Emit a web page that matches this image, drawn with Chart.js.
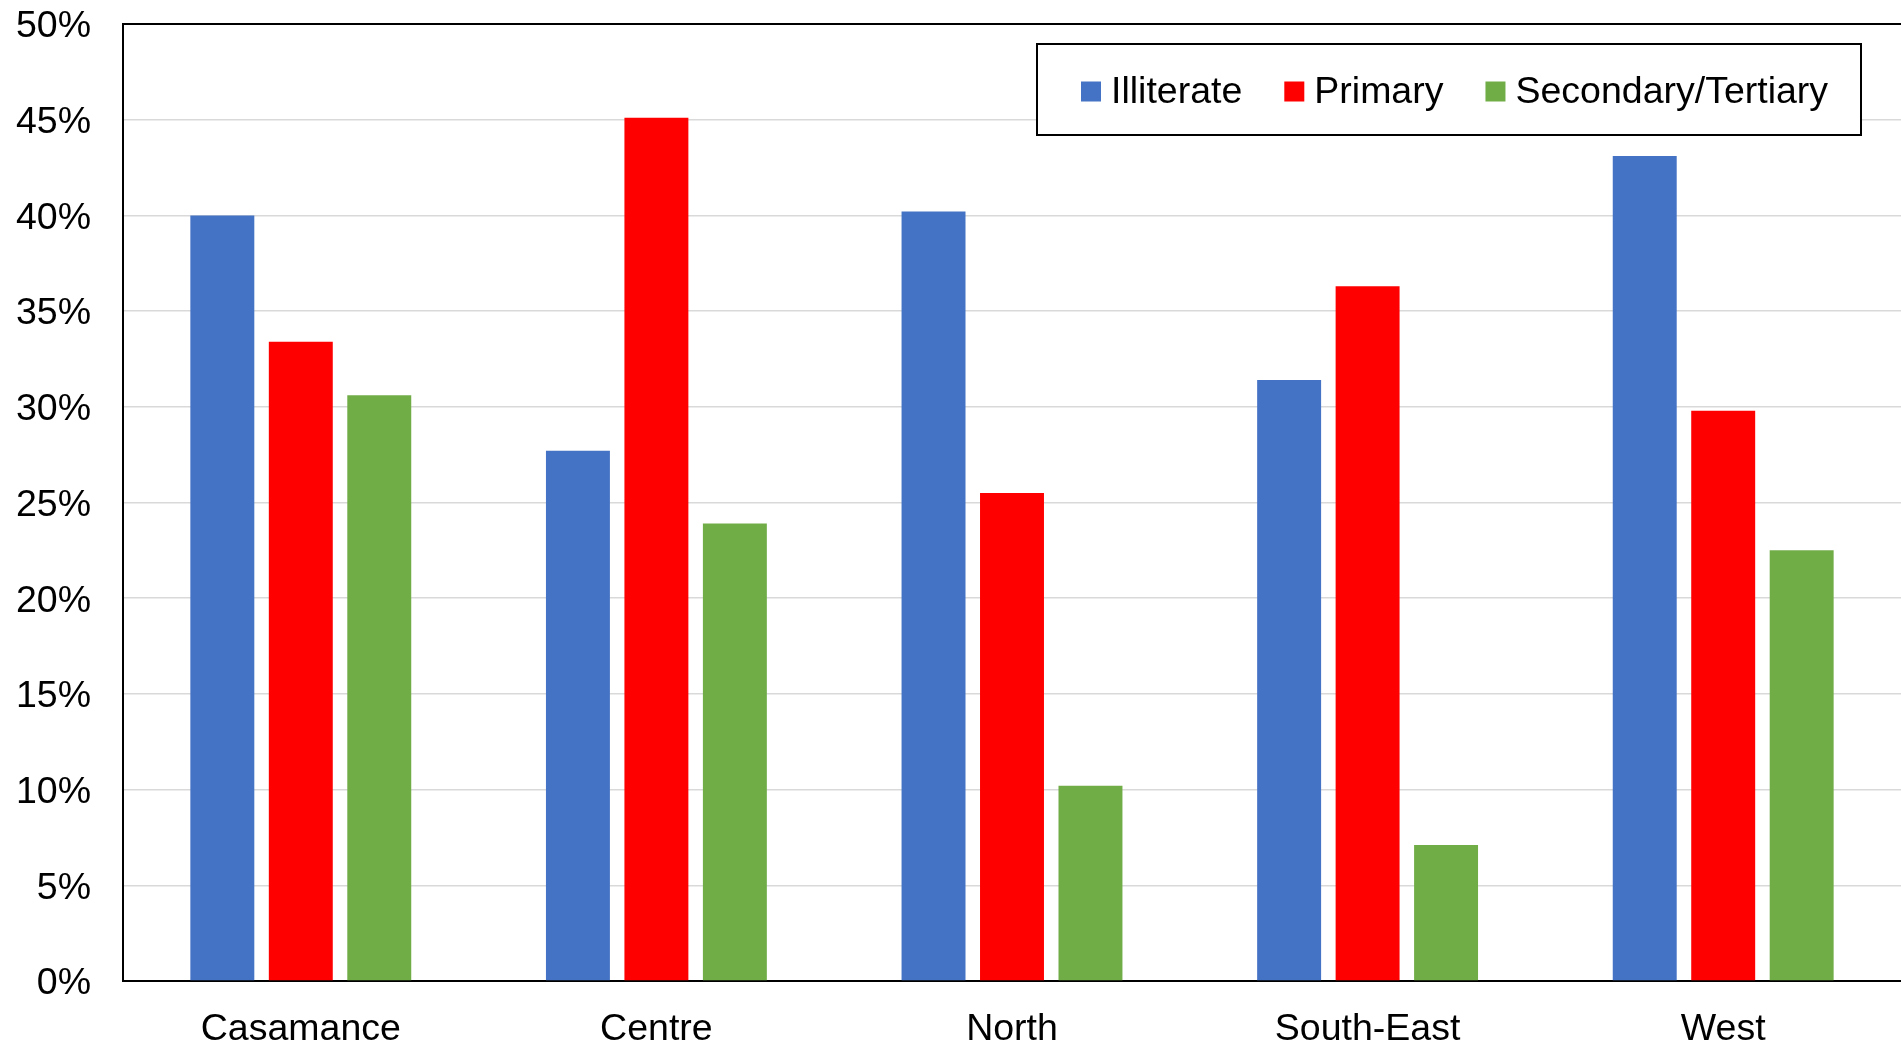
<!DOCTYPE html>
<html>
<head>
<meta charset="utf-8">
<script src="https://cdn.jsdelivr.net/npm/chart.js@4/dist/chart.umd.min.js"></script>
<style>
html,body{margin:0;padding:0;background:#fff;overflow:hidden;}
#wrap{position:relative;width:1901px;height:1043px;}
canvas{display:block;}
</style>
</head>
<body>
<div id="wrap"><canvas id="c" width="1901" height="1043"></canvas></div>
<script>
const categories = ["Casamance", "Centre", "North", "South-East", "West"];
const seriesNames = ["Illiterate", "Primary", "Secondary/Tertiary"];
const illiterate = [40.0, 27.7, 40.2, 31.4, 43.1];
const primary = [33.4, 45.1, 25.5, 36.3, 29.8];
const secondaryTertiary = [30.6, 23.9, 10.2, 7.1, 22.5];
const yTicks = [0, 5, 10, 15, 20, 25, 30, 35, 40, 45, 50];
const colors = ["#4472C4", "#FF0000", "#70AD47"];

const FONT = '"Liberation Sans", Arial, sans-serif';
const FSIZE = 37.5;

const boxLegend = {
  id: 'boxLegend',
  afterDraw(chart) {
    const ctx = chart.ctx;
    const bx = 1037, by = 44, bw = 824, bh = 91;
    ctx.save();
    ctx.fillStyle = '#fff';
    ctx.fillRect(bx, by, bw, bh);
    ctx.strokeStyle = '#000';
    ctx.lineWidth = 2;
    ctx.strokeRect(bx, by, bw, bh);
    ctx.font = FSIZE + 'px ' + FONT;
    ctx.textBaseline = 'middle';
    let x = bx + 44;
    const cy = by + bh / 2 + 2;
    chart.data.datasets.forEach((ds, i) => {
      ctx.fillStyle = ds.backgroundColor;
      ctx.fillRect(x, cy - 10, 20, 20);
      ctx.fillStyle = '#000';
      ctx.fillText(ds.label, x + 30, cy + 1);
      x += 30 + ctx.measureText(ds.label).width + 42;
    });
    ctx.restore();
  }
};

const topBorder = {
  id: 'topBorder',
  afterDatasetsDraw(chart) {
    const a = chart.chartArea, ctx = chart.ctx;
    ctx.save();
    ctx.strokeStyle = '#000';
    ctx.lineWidth = 2;
    ctx.beginPath();
    ctx.moveTo(a.left, a.top);
    ctx.lineTo(a.right + 2, a.top);
    ctx.stroke();
    ctx.restore();
  }
};

new Chart(document.getElementById('c'), {
  type: 'bar',
  data: {
    labels: categories,
    datasets: [
      { label: seriesNames[0], data: illiterate, backgroundColor: colors[0] },
      { label: seriesNames[1], data: primary, backgroundColor: colors[1] },
      { label: seriesNames[2], data: secondaryTertiary, backgroundColor: colors[2] }
    ]
  },
  options: {
    responsive: false,
    animation: false,
    devicePixelRatio: 1,
    layout: { padding: { top: 24, right: 0, left: 0, bottom: 0 } },
    datasets: { bar: { categoryPercentage: 0.662, barPercentage: 0.815 } },
    plugins: { legend: { display: false }, tooltip: { enabled: false } },
    scales: {
      x: {
        grid: { display: false, drawTicks: false },
        border: { display: true, color: '#000', width: 2 },
        ticks: { color: '#000', font: { family: FONT, size: FSIZE }, padding: 26 },
        afterFit(s) { s.height = 62; s.paddingLeft = 0; s.paddingRight = 0; }
      },
      y: {
        min: 0, max: 50,
        afterBuildTicks(s) { s.ticks = yTicks.map(v => ({ value: v })); },
        grid: { color: '#d9d9d9', lineWidth: 1.5, drawTicks: false },
        border: { display: true, color: '#000', width: 2 },
        ticks: { color: '#000', font: { family: FONT, size: FSIZE }, padding: 32, labelOffset: 3,
                 callback: v => v + '%' },
        afterFit(s) { s.width = 123; s.paddingTop = 0; s.paddingBottom = 0; }
      }
    }
  },
  plugins: [topBorder, boxLegend]
});
</script>
</body>
</html>
